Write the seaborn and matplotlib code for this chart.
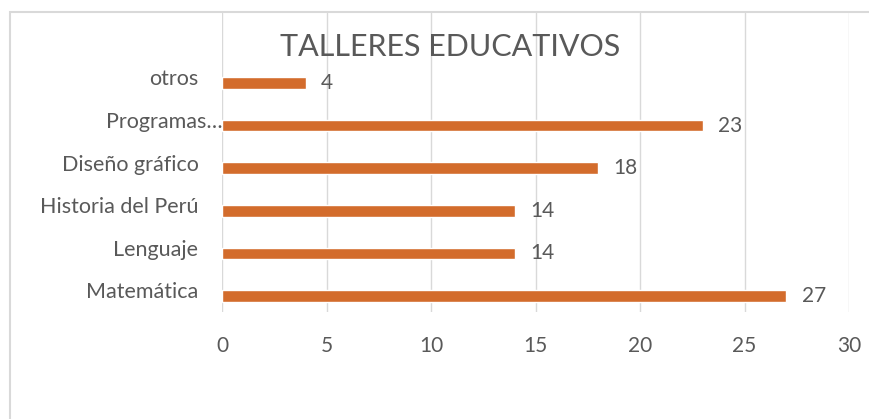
import matplotlib
matplotlib.use('Agg')
import matplotlib.pyplot as plt
import matplotlib.transforms as mtransforms
import seaborn as sns
import pandas as pd

# --- data ---
talleres = ['otros', 'Programas…', 'Diseño gráfico', 'Historia del Perú', 'Lenguaje', 'Matemática']
cantidades = [4, 23, 18, 14, 14, 27]
x_ticks = [0, 5, 10, 15, 20, 25, 30]

df = pd.DataFrame({'Taller': talleres, 'Cantidad': cantidades})

sns.set_style('white')
plt.rcParams['font.family'] = ['Lato', 'DejaVu Sans']

TEXT = '#595959'
BAR = '#D36C2C'
GRID = '#D9D9D9'

fig = plt.figure(figsize=(8.69, 4.19), dpi=100)
ax = fig.add_axes([0.2555, 0.2554, 0.977 - 0.2555, 0.969 - 0.2554])

sns.barplot(data=df, x='Cantidad', y='Taller', order=talleres, orient='h',
            color=BAR, saturation=1, width=0.27, ax=ax)

ax.set_xlim(0, 30)
ax.set_ylim(5.375, -1.64)
ax.set_xticks(x_ticks)
ax.xaxis.grid(True, color=GRID, lw=1)
ax.set_axisbelow(True)
for s in ax.spines.values():
    s.set_visible(False)
ax.set_xlabel('')
ax.set_ylabel('')
ax.tick_params(axis='x', length=0, pad=17, labelsize=15, labelcolor=TEXT)
ax.tick_params(axis='y', length=0, pad=17, labelsize=15.5, labelcolor=TEXT)

# nudge category labels up a bit; the truncated one sits closer to the axis
for lbl in ax.get_yticklabels():
    dx = 17 / 72 if lbl.get_text() == 'Programas…' else 0
    lbl.set_transform(lbl.get_transform() + mtransforms.ScaledTranslation(dx, 4 / 72, fig.dpi_scale_trans))

for cont in ax.containers:
    lbls = ax.bar_label(cont, padding=11, fontsize=15, color=TEXT)
    for t in lbls:
        t.set_transform(t.get_transform() + mtransforms.ScaledTranslation(0, -2 / 72, fig.dpi_scale_trans))

fig.text(0.518, 0.888, 'TALLERES EDUCATIVOS', ha='center', va='center', fontsize=22, color=TEXT)

# chart border
border = plt.Rectangle((10 / 869, -0.05), 1.0, 1 - 12 / 419 + 0.05, transform=fig.transFigure,
                       fill=False, edgecolor=GRID, lw=1.5)
fig.patches.append(border)

fig.savefig('out.png', dpi=100, facecolor='white')
